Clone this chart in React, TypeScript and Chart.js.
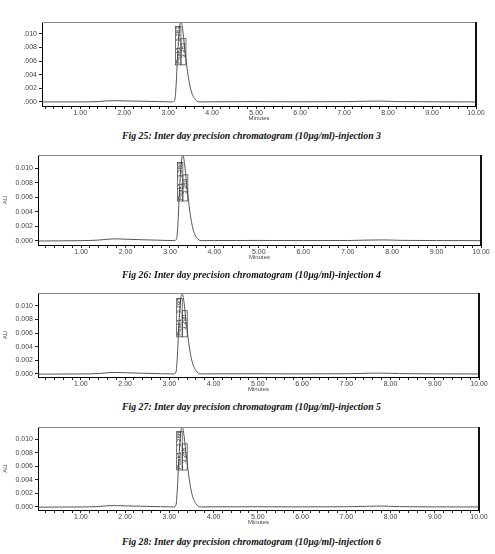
import React, { useEffect, useRef } from "react";
import { Chart, registerables } from "chart.js";

Chart.register(...registerables);

// Retention time axis (minutes)
const times = [0, 0.5, 1.0, 1.4, 1.6, 1.8, 2.0, 2.4, 2.8, 3.0, 3.1, 3.15, 3.18, 3.21, 3.25, 3.29, 3.33, 3.37, 3.41, 3.45, 3.5, 3.55, 3.6, 3.65, 3.7, 4.0, 4.5, 5.0, 5.3, 6.0, 7.0, 7.5, 7.8, 8.2, 9.0, 10.0];

// Absorbance (AU) for each injection
const au25 = [0, 0, 0, 0.00005, 0.00015, 0.00018, 0.00015, 0.0001, 0.00005, 0.00002, 0, 0.0003, 0.0025, 0.0065, 0.0105, 0.0118, 0.0106, 0.0082, 0.006, 0.004, 0.0022, 0.0011, 0.0005, 0.00015, 0, 0.00002, 0.00003, 0.00005, 0.00003, 0.00002, 0.00004, 0.0001, 0.00012, 0.00005, 0.00002, 0];
const au26 = [-0.00005, -0.00003, 0, 0.00008, 0.0002, 0.00025, 0.0002, 0.00012, 0.00005, 0.00002, 0, 0.0003, 0.0024, 0.0064, 0.0104, 0.0118, 0.0105, 0.0081, 0.0059, 0.0039, 0.0021, 0.001, 0.0004, 0.0001, 0, 0.00002, 0.00002, 0.00003, 0.00002, 0.00001, 0.00002, 0.00008, 0.0001, 0.00004, 0.00001, 0];
const au27 = [-0.00003, -0.00002, 0, 0.00006, 0.00018, 0.00022, 0.00018, 0.0001, 0.00004, 0.00001, 0, 0.0003, 0.0025, 0.0066, 0.0106, 0.0118, 0.0106, 0.0082, 0.006, 0.004, 0.0022, 0.0011, 0.0005, 0.00012, 0, 0.00002, 0.00002, 0.00003, 0.00002, 0.00001, 0.00003, 0.0001, 0.00012, 0.00005, 0.00001, 0];
const au28 = [-0.00003, -0.00002, 0, 0.00006, 0.00018, 0.0002, 0.00016, 0.0001, 0.00004, 0.00001, 0, 0.0003, 0.0026, 0.0066, 0.0106, 0.0118, 0.0106, 0.0083, 0.0061, 0.0041, 0.0022, 0.0011, 0.0005, 0.00012, 0, 0.00002, 0.00002, 0.00003, 0.00002, 0.00001, 0.00003, 0.0001, 0.00013, 0.00005, 0.00001, 0];

const peakTimes = [3.29, 3.29, 3.29, 3.29];
const peakLabels = ["Peak1 - 3.283", "Peak1 - 3.286", "Peak1 - 3.290", "Peak1 - 3.288"];
const captions = [
  "Fig 25: Inter day precision chromatogram (10µg/ml)-injection 3",
  "Fig 26: Inter day precision chromatogram (10µg/ml)-injection 4",
  "Fig 27: Inter day precision chromatogram (10µg/ml)-injection 5",
  "Fig 28: Inter day precision chromatogram (10µg/ml)-injection 6",
];
const series = [au25, au26, au27, au28];

type Layout = {
  top: number; h: number; L: number; R: number; T: number; B: number;
  xMin: number; xMax: number; yMin: number; yMax: number; au: boolean; short: boolean;
};

const layouts: Layout[] = [
  { top: 10, h: 112, L: 42, R: 476, T: 12, B: 96, xMin: 0.13, xMax: 10.0, yMin: -0.0006, yMax: 0.01176, au: false, short: true },
  { top: 143, h: 118, L: 38, R: 481, T: 12, B: 102, xMin: 0.03, xMax: 10.0, yMin: -0.0006, yMax: 0.0118, au: true, short: false },
  { top: 281, h: 112, L: 38, R: 479, T: 12, B: 96, xMin: 0.03, xMax: 10.0, yMin: -0.00045, yMax: 0.0119, au: true, short: false },
  { top: 415, h: 111, L: 38, R: 479, T: 12, B: 95, xMin: 0.03, xMax: 10.0, yMin: -0.00045, yMax: 0.0118, au: true, short: false },
];
const captionY = [136, 275, 407, 542];

const framePlugin = {
  id: "frame",
  afterDraw(chart: any) {
    const { ctx, chartArea } = chart;
    ctx.save();
    ctx.strokeStyle = "#888";
    ctx.lineWidth = 1;
    ctx.beginPath();
    ctx.moveTo(chartArea.left, chartArea.top + 0.5);
    ctx.lineTo(chartArea.right, chartArea.top + 0.5);
    ctx.stroke();
    ctx.strokeStyle = "#111";
    ctx.lineWidth = 2;
    ctx.beginPath();
    ctx.moveTo(chartArea.right, chartArea.top);
    ctx.lineTo(chartArea.right, chartArea.bottom);
    ctx.stroke();
    ctx.restore();
  },
};

const peakLabelPlugin = {
  id: "peakLabel",
  afterDatasetsDraw(chart: any, _args: any, opts: any) {
    const { ctx, scales } = chart;
    const x = scales.x.getPixelForValue(opts.rt);
    const y = scales.y.getPixelForValue(0.0056);
    ctx.save();
    ctx.translate(x, y);
    ctx.rotate(-Math.PI / 2);
    ctx.font = "6px 'Liberation Sans', Arial, sans-serif";
    ctx.fillStyle = "#222";
    ctx.strokeStyle = "#333";
    ctx.lineWidth = 0.7;
    ctx.textBaseline = "middle";
    const w = ctx.measureText(opts.text).width;
    ctx.strokeRect(-1, -5.5, w + 1, 5.5);
    ctx.strokeRect(-1, 0, w * 0.7, 5);
    ctx.fillText(opts.text, 0, -2.8);
    ctx.fillText(opts.text.slice(-5), 6, 2.6);
    ctx.restore();
  },
};

function Panel({ idx }: { idx: number }) {
  const ref = useRef<HTMLCanvasElement>(null);
  const lay = layouts[idx];
  useEffect(() => {
    const values = series[idx];
    const pts = times.map((t, i) => ({ x: t, y: values[i] }));
    const chart = new Chart(ref.current as HTMLCanvasElement, {
      type: "line",
      data: {
        datasets: [
          {
            data: pts,
            borderColor: "#555",
            borderWidth: 1,
            pointRadius: 0,
            cubicInterpolationMode: "monotone",
            fill: false,
          },
        ],
      },
      options: {
        responsive: false,
        animation: false,
        events: [],
        layout: { padding: { left: lay.au ? 2 : 0, right: 495 - lay.R, top: lay.T, bottom: 0 } },
        plugins: {
          legend: { display: false },
          tooltip: { enabled: false },
          peakLabel: { rt: peakTimes[idx], text: peakLabels[idx] },
        } as any,
        scales: {
          x: {
            type: "linear",
            min: lay.xMin,
            max: lay.xMax,
            afterFit: (s: any) => { s.height = lay.h - lay.B; },
            border: { display: true, color: "#000", width: 1 },
            grid: { drawOnChartArea: false, drawTicks: true, tickLength: 3, tickColor: "#222" },
            ticks: {
              stepSize: 0.2,
              autoSkip: false,
              maxRotation: 0,
              padding: 0,
              color: "#444",
              font: { size: 7, family: "'Liberation Sans', Arial, sans-serif" },
              includeBounds: false,
              callback: (v: any) => {
                const n = Number(v);
                return Math.abs(n - Math.round(n)) < 1e-6 && Math.round(n) > 0 ? n.toFixed(2) : "";
              },
            } as any,
            title: {
              display: true,
              text: "Minutes",
              color: "#444",
              padding: 0,
              font: { size: 6, family: "'Liberation Sans', Arial, sans-serif" },
            },
          },
          y: {
            type: "linear",
            min: lay.yMin,
            max: lay.yMax,
            afterFit: (s: any) => { s.width = lay.L - (lay.au ? 2 : 0); },
            border: { display: true, color: "#000", width: 1 },
            grid: { drawOnChartArea: false, drawTicks: true, tickLength: 3, tickColor: "#222" },
            ticks: {
              stepSize: 0.002,
              padding: 2,
              color: "#444",
              includeBounds: false,
              font: { size: 7, family: "'Liberation Sans', Arial, sans-serif" },
              callback: (v: any) => {
                const n = Number(v);
                if (n < -1e-9) return "";
                const s = n.toFixed(3);
                return lay.short ? s.slice(1) : s;
              },
            } as any,
            title: {
              display: lay.au,
              text: "AU",
              color: "#444",
              padding: 0,
              font: { size: 6, family: "'Liberation Sans', Arial, sans-serif" },
            },
          },
        },
      },
      plugins: [framePlugin, peakLabelPlugin],
    });
    return () => chart.destroy();
  }, []);
  return (
    <canvas
      ref={ref}
      width={495}
      height={lay.h}
      style={{ position: "absolute", left: 0, top: lay.top, width: 495, height: lay.h }}
    />
  );
}

export default function App() {
  return (
    <div style={{ position: "absolute", left: 0, top: 0, width: 495, height: 554, background: "#fff", overflow: "hidden" }}>
      {[0, 1, 2, 3].map((i) => (
        <Panel key={i} idx={i} />
      ))}
      {captions.map((c, i) => (
        <div
          key={c}
          style={{
            position: "absolute",
            left: 0,
            width: 495,
            top: captionY[i] - 7,
            height: 14,
            lineHeight: "14px",
            textAlign: "center",
            fontFamily: "'Liberation Serif', 'Times New Roman', serif",
            fontWeight: "bold",
            fontStyle: "italic",
            fontSize: 9.8,
            color: "#111",
            paddingLeft: 4,
          }}
        >
          {c}
        </div>
      ))}
    </div>
  );
}
